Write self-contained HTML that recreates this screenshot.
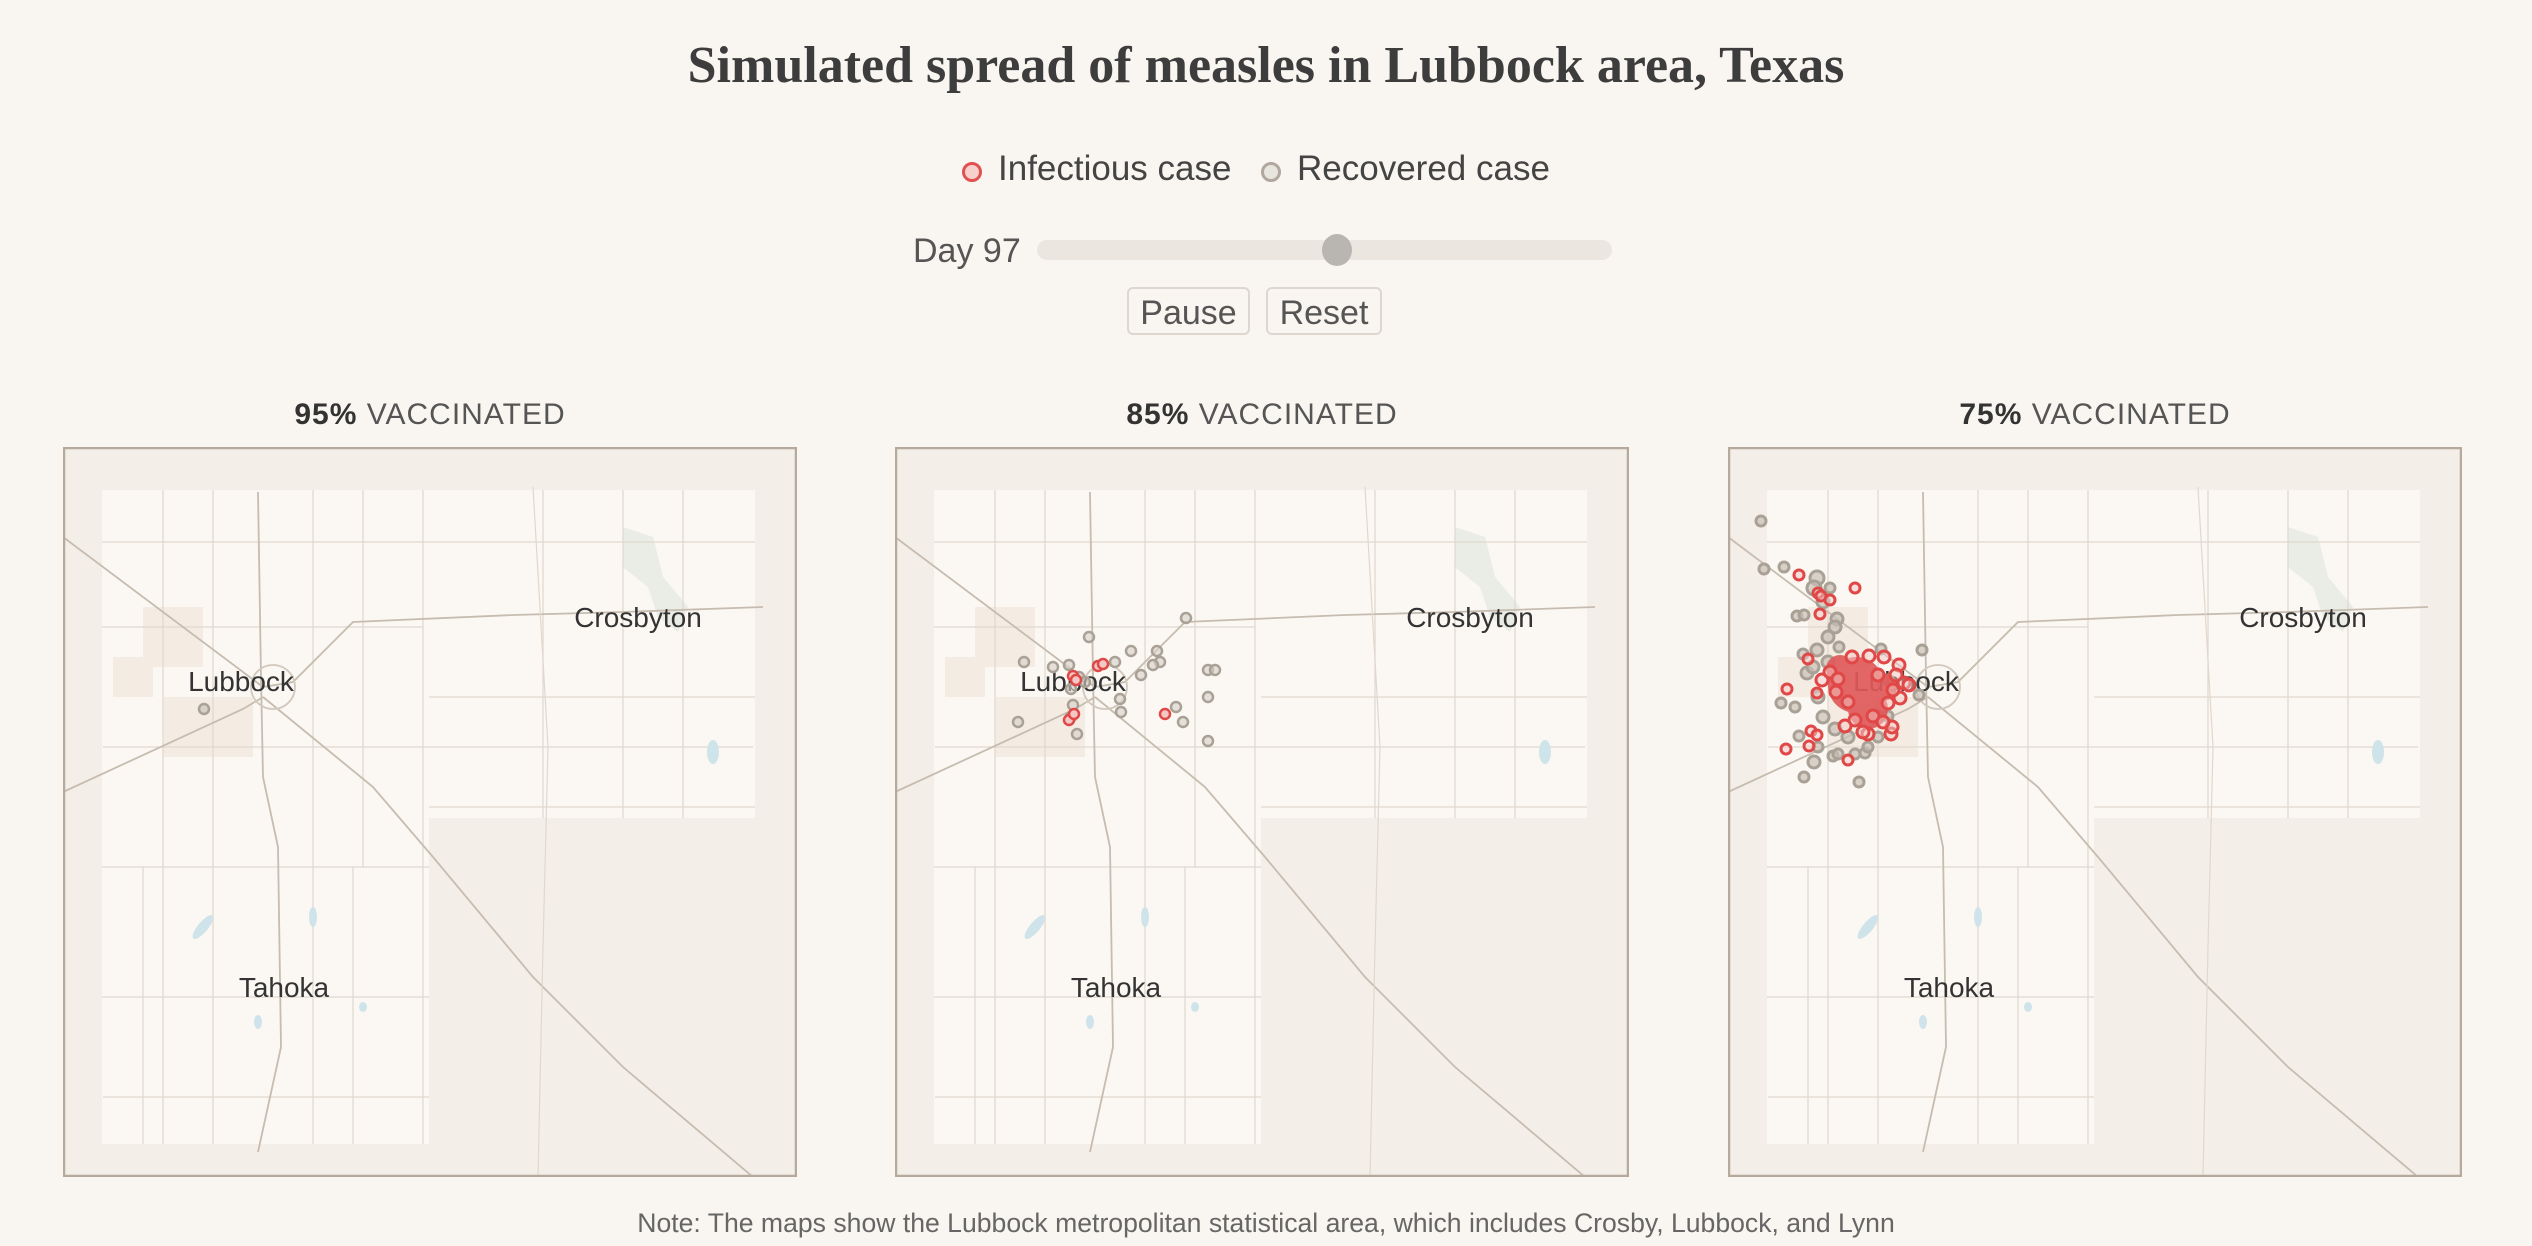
<!DOCTYPE html>
<html><head><meta charset="utf-8"><style>
body{margin:0;width:2532px;height:1246px;background:#f9f5f0;font-family:"Liberation Sans",sans-serif;color:#404040;position:relative;overflow:hidden}
.a{position:absolute;white-space:nowrap}
.title{left:0;width:2532px;text-align:center;top:36px;font-family:"Liberation Serif",serif;font-weight:bold;font-size:52px;color:#3d3d3d}
.pt{font-size:30px;letter-spacing:1px;color:#555;text-align:center;width:734px;top:398px}
.pt b{color:#333}
.btn{top:287px;height:48px;border:2px solid #ddd7d0;border-radius:6px;font-size:34px;color:#555;text-align:center;line-height:48px;box-sizing:border-box}
svg.map{position:absolute;top:447px}
</style></head><body>
<div class="a title">Simulated spread of measles in Lubbock area, Texas</div>
<div class="a" style="left:962px;top:162px;width:20px;height:20px;border:3px solid #e05252;border-radius:50%;background:#f5d0cd;box-sizing:border-box"></div>
<div class="a" style="left:998px;top:149px;font-size:35px;color:#444">Infectious case</div>
<div class="a" style="left:1261px;top:162px;width:20px;height:20px;border:3px solid #b0a89e;border-radius:50%;background:#e8e4de;box-sizing:border-box"></div>
<div class="a" style="left:1297px;top:149px;font-size:35px;color:#444">Recovered case</div>
<div class="a" style="left:913px;top:232px;font-size:34px;color:#555">Day 97</div>
<div class="a" style="left:1037px;top:240px;width:575px;height:20px;background:#ebe6e0;border-radius:10px"></div>
<div class="a" style="left:1322px;top:234px;width:30px;height:32px;background:#b9b5b1;border-radius:50%"></div>
<div class="a btn" style="left:1127px;width:123px">Pause</div>
<div class="a btn" style="left:1266px;width:116px">Reset</div>
<div class="a pt" style="left:63px"><b>95%</b> VACCINATED</div>
<div class="a pt" style="left:895px"><b>85%</b> VACCINATED</div>
<div class="a pt" style="left:1728px"><b>75%</b> VACCINATED</div>

<svg width="0" height="0" style="position:absolute">
<defs>
<g id="base">
<rect x="0" y="0" width="734" height="730" fill="#f4eee8"/>
<path d="M39 43H692V371H366V697H39Z" fill="#fbf7f2"/>
<g fill="#e6e8e2" opacity="0.8">
<path d="M560 80 l30 10 l10 40 l25 30 l-10 25 l-20 -15 l-10 -30 l-25 -20Z"/>
<path d="M80 160h60v60h-60z M50 210h40v40h-40z M100 250h90v60h-90z" fill="#f3e9df"/>
</g>
<g fill="none" stroke="#e0d8ce" stroke-width="1.2">
<path d="M39 95H692 M39 180H360 M40 300H690 M39 420H366 M39 550H366 M40 650H366 M366 250H692 M366 360H692"/>
<path d="M100 43V697 M150 43V697 M250 43V697 M300 43V420 M360 43V697 M480 43V371 M560 43V371 M620 43V371 M80 420V697 M290 420V697"/>
</g>
<g fill="none" stroke="#c6bcb0" stroke-width="1.8">
<path d="M0 90 L200 240 L230 235 L290 175 L450 168 L560 165 L700 160"/>
<path d="M0 345 L180 262 L200 250"/>
<path d="M195 45 L198 230 L200 330 L215 400 L218 600 L195 705"/>
<path d="M200 250 L310 340 L370 410 L470 530 L560 620 L690 730"/>
<path d="M470 40 L485 300 L480 500 L475 730" stroke="#e0d8ce" stroke-width="1.2"/>
<circle cx="210" cy="240" r="22" stroke="#d2c9be"/>
</g>
<g fill="#cfe3ea"><ellipse cx="140" cy="480" rx="5" ry="15" transform="rotate(40 140 480)"/><ellipse cx="250" cy="470" rx="4" ry="10"/><ellipse cx="195" cy="575" rx="4" ry="7"/><ellipse cx="300" cy="560" rx="4" ry="5"/><ellipse cx="650" cy="305" rx="6" ry="12"/></g>
<rect x="1" y="1" width="732" height="728" fill="none" stroke="#b5aa9c" stroke-width="2.5"/>
</g>
</defs>
</svg>

<svg class="map" style="left:63px" width="734" height="730">
<use href="#base"/>
<text x="575" y="180" font-size="28" fill="#333" text-anchor="middle">Crosbyton</text>
<text x="178" y="244" font-size="28" fill="#333" text-anchor="middle">Lubbock</text>
<text x="221" y="550" font-size="28" fill="#333" text-anchor="middle">Tahoka</text>
<circle cx="141" cy="262" r="5" fill="#d6d0c8" stroke="#aaa196" stroke-width="2.5"/>
</svg>

<svg class="map" style="left:895px" width="734" height="730">
<use href="#base"/>
<text x="575" y="180" font-size="28" fill="#333" text-anchor="middle">Crosbyton</text>
<text x="178" y="244" font-size="28" fill="#333" text-anchor="middle">Lubbock</text>
<text x="221" y="550" font-size="28" fill="#333" text-anchor="middle">Tahoka</text>
<g fill="#d6d0c8" fill-opacity="0.6" stroke="#aaa196" stroke-width="2.5">
<circle cx="129" cy="215" r="5"/><circle cx="158" cy="220" r="5"/><circle cx="174" cy="218" r="5"/><circle cx="194" cy="190" r="5"/><circle cx="220" cy="215" r="5"/><circle cx="236" cy="204" r="5"/><circle cx="262" cy="204" r="5"/><circle cx="265" cy="215" r="5"/><circle cx="258" cy="218" r="5"/><circle cx="246" cy="228" r="5"/><circle cx="291" cy="171" r="5"/><circle cx="313" cy="223" r="5"/><circle cx="320" cy="223" r="5"/><circle cx="313" cy="250" r="5"/><circle cx="281" cy="260" r="5"/><circle cx="288" cy="275" r="5"/><circle cx="313" cy="294" r="5"/><circle cx="178" cy="258" r="5"/><circle cx="176" cy="270" r="5"/><circle cx="182" cy="287" r="5"/><circle cx="123" cy="275" r="5"/><circle cx="176" cy="242" r="5"/><circle cx="184" cy="230" r="5"/><circle cx="225" cy="252" r="5"/><circle cx="226" cy="265" r="5"/><circle cx="190" cy="235" r="5"/>
</g>
<g fill="#f3c8c4" stroke="#e04848" stroke-width="2.5">
<circle cx="203" cy="219" r="5"/><circle cx="208" cy="217" r="5"/><circle cx="178" cy="229" r="5"/><circle cx="181" cy="233" r="5"/><circle cx="174" cy="273" r="5"/><circle cx="179" cy="267" r="5"/><circle cx="270" cy="267" r="5"/>
</g>
</svg>

<svg class="map" style="left:1728px" width="734" height="730">
<use href="#base"/>
<text x="575" y="180" font-size="28" fill="#333" text-anchor="middle">Crosbyton</text>
<text x="178" y="244" font-size="28" fill="#333" text-anchor="middle">Lubbock</text>
<text x="221" y="550" font-size="28" fill="#333" text-anchor="middle">Tahoka</text>
<g fill="#c8c0b6" fill-opacity="0.7" stroke="#aaa196" stroke-width="3">
<circle cx="33" cy="74" r="5"/><circle cx="36" cy="122" r="5"/><circle cx="56" cy="120" r="5"/><circle cx="89" cy="131" r="7"/><circle cx="86" cy="141" r="7"/><circle cx="102" cy="141" r="5"/><circle cx="69" cy="169" r="5"/><circle cx="76" cy="168" r="5"/><circle cx="109" cy="172" r="6"/><circle cx="107" cy="180" r="6"/><circle cx="111" cy="200" r="5"/><circle cx="75" cy="207" r="5"/><circle cx="89" cy="203" r="6"/><circle cx="153" cy="202" r="5"/><circle cx="194" cy="203" r="5"/><circle cx="79" cy="226" r="6"/><circle cx="53" cy="256" r="5"/><circle cx="67" cy="260" r="5"/><circle cx="191" cy="248" r="5"/><circle cx="71" cy="289" r="5"/><circle cx="86" cy="315" r="6"/><circle cx="76" cy="330" r="5"/><circle cx="105" cy="309" r="5"/><circle cx="110" cy="307" r="5"/><circle cx="131" cy="335" r="5"/><circle cx="137" cy="306" r="5"/><circle cx="127" cy="307" r="5"/><circle cx="160" cy="233" r="5"/><circle cx="160" cy="269" r="5"/><circle cx="107" cy="282" r="6"/><circle cx="95" cy="155" r="6"/><circle cx="100" cy="190" r="6"/><circle cx="85" cy="220" r="6"/><circle cx="95" cy="270" r="6"/><circle cx="120" cy="290" r="6"/><circle cx="150" cy="290" r="5"/><circle cx="90" cy="300" r="5"/><circle cx="90" cy="250" r="6"/><circle cx="100" cy="215" r="6"/><circle cx="150" cy="270" r="6"/><circle cx="140" cy="300" r="5"/>
</g>
<g fill="#e05a5a" opacity="0.92"><circle cx="128" cy="238" r="28"/><circle cx="140" cy="262" r="20"/><circle cx="112" cy="222" r="14"/><circle cx="155" cy="240" r="14"/></g>
<g fill="#f3c8c4" fill-opacity="0.5" stroke="#e04848" stroke-width="3">
<circle cx="71" cy="128" r="5"/><circle cx="127" cy="141" r="5"/><circle cx="90" cy="146" r="5"/><circle cx="93" cy="149" r="5"/><circle cx="102" cy="153" r="5"/><circle cx="92" cy="167" r="5"/><circle cx="80" cy="212" r="5"/><circle cx="59" cy="242" r="5"/><circle cx="89" cy="246" r="5"/><circle cx="58" cy="302" r="5"/><circle cx="81" cy="299" r="5"/><circle cx="83" cy="284" r="5"/><circle cx="89" cy="288" r="5"/><circle cx="120" cy="313" r="5"/><circle cx="124" cy="210" r="6"/><circle cx="141" cy="209" r="6"/><circle cx="156" cy="210" r="6"/><circle cx="171" cy="218" r="6"/><circle cx="176" cy="236" r="6"/><circle cx="181" cy="238" r="6"/><circle cx="172" cy="251" r="6"/><circle cx="163" cy="287" r="6"/><circle cx="164" cy="280" r="6"/><circle cx="140" cy="287" r="6"/><circle cx="127" cy="273" r="6"/><circle cx="117" cy="279" r="6"/><circle cx="94" cy="233" r="6"/><circle cx="102" cy="225" r="6"/><circle cx="160" cy="256" r="6"/><circle cx="145" cy="269" r="6"/><circle cx="110" cy="232" r="6"/><circle cx="150" cy="228" r="6"/><circle cx="108" cy="245" r="6"/><circle cx="135" cy="285" r="6"/><circle cx="165" cy="243" r="6"/><circle cx="120" cy="255" r="6"/><circle cx="155" cy="275" r="6"/><circle cx="168" cy="228" r="6"/>
</g>
</svg>

<div class="a" style="left:0;width:2532px;text-align:center;top:1208px;font-size:26.6px;color:#666">Note: The maps show the Lubbock metropolitan statistical area, which includes Crosby, Lubbock, and Lynn</div>
</body></html>
